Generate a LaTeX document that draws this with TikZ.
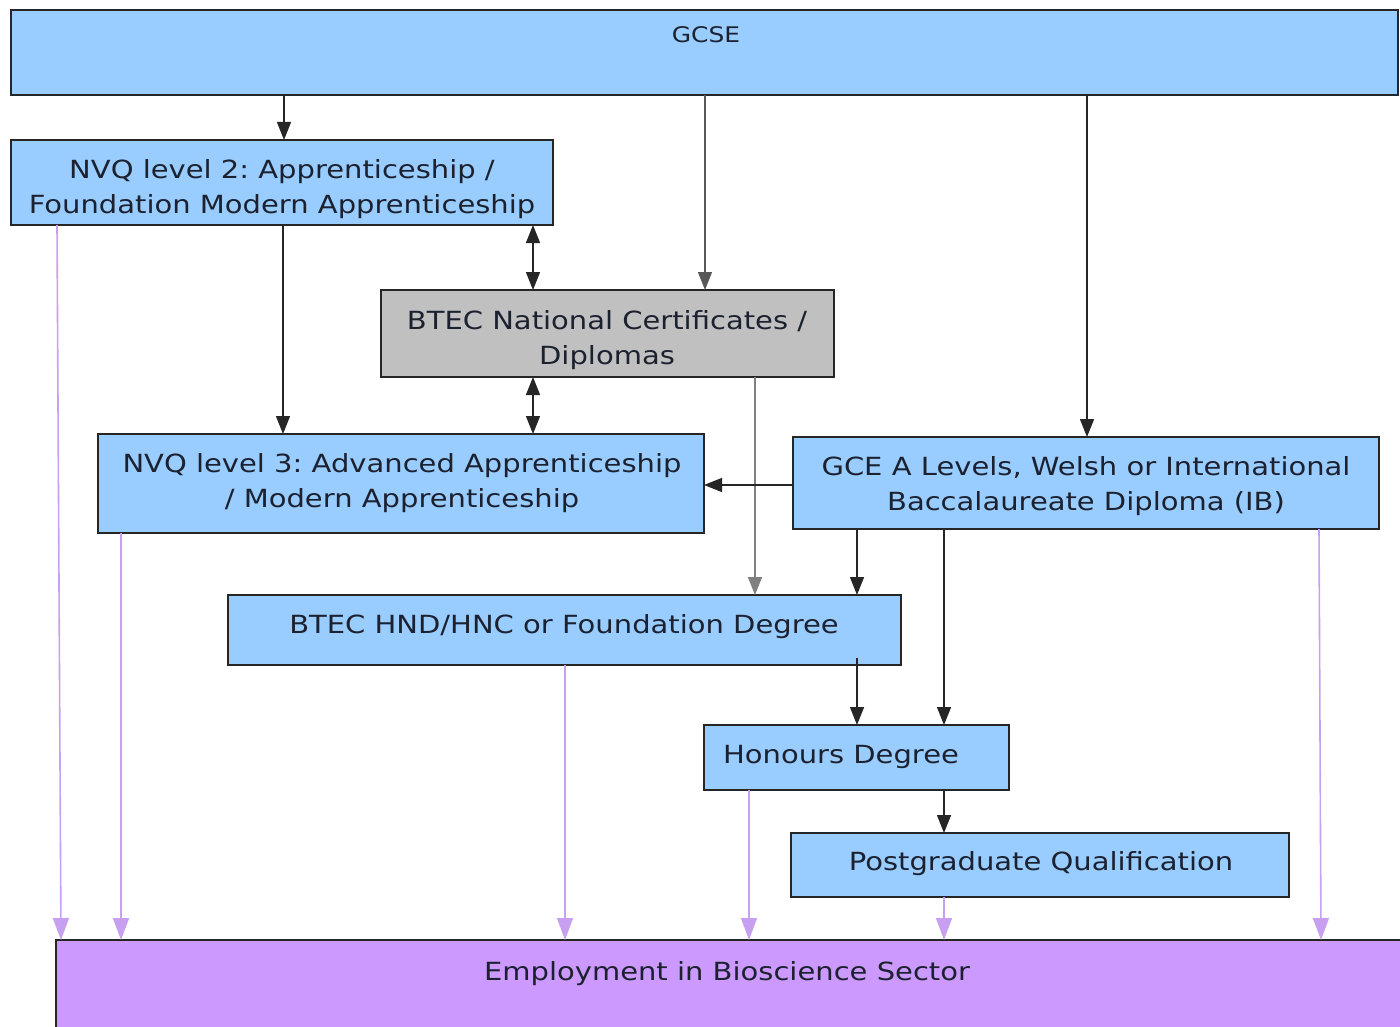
\documentclass[tikz,border=0pt]{standalone}
\usepackage{fontspec}
\setmainfont[FakeStretch=1.16]{DejaVu Sans}
\usetikzlibrary{arrows.meta}
\definecolor{boxblue}{HTML}{99CCFF}
\definecolor{boxgray}{HTML}{C0C0C0}
\definecolor{boxpurple}{HTML}{CC99FF}
\definecolor{arrpurple}{HTML}{C8A0F2}
\definecolor{txtcol}{HTML}{1C2130}
\frenchspacing
\begin{document}
\begin{tikzpicture}[x=1pt,y=-1pt,
  box/.style={draw=black!85, line width=2pt, fill=boxblue, inner sep=0pt, outer sep=0pt},
  graybox/.style={box, fill=boxgray},
  purplebox/.style={box, fill=boxpurple},
  lbl/.style={font=\fontsize{25}{35}\selectfont, align=center, inner sep=0pt, text=txtcol},
  flow/.style={draw=black!85, line width=1.4pt, -{Triangle[length=18pt,width=14pt]}},
  grayflow/.style={flow, draw=black!50},
  bothflow/.style={flow, {Triangle[length=18pt,width=14pt]}-{Triangle[length=18pt,width=14pt]}},
  empflow/.style={draw=arrpurple, line width=1.6pt, -{Triangle[length=22pt,width=16pt,fill=arrpurple]}}
]
\useasboundingbox (0,0) rectangle (1400,1027);
\fill[white] (0,0) rectangle (1400,1027);

% boxes
\node[box, minimum width=1387pt, minimum height=85pt] (gcse) at (704.5,52.5) {};
\node[box, minimum width=542pt, minimum height=85pt] (nvq2) at (282,182.5) {};
\node[graybox, minimum width=453pt, minimum height=87pt] (btecnat) at (607.5,333.5) {};
\node[box, minimum width=606pt, minimum height=99pt] (nvq3) at (401,483.5) {};
\node[box, minimum width=586pt, minimum height=92pt] (gce) at (1086,483) {};
\node[box, minimum width=673pt, minimum height=70pt] (hnd) at (564.5,630) {};
\node[box, minimum width=305pt, minimum height=65pt] (hons) at (856.5,757.5) {};
\node[box, minimum width=498pt, minimum height=64pt] (pg) at (1040,865) {};
\node[purplebox, minimum width=1346pt, minimum height=90pt] (emp) at (729,985) {};

% labels
\node[lbl, font=\fontsize{21.5}{30}\selectfont, anchor=base] (tgcse) at (706,43) {GCSE};
\node[lbl] (tnvq2) at (282,189.5) {NVQ level 2: Apprenticeship /\\Foundation Modern Apprenticeship};
\node[lbl] (tbtecnat) at (607,340.5) {BTEC National Certificates /\\Diplomas};
\node[lbl] (tnvq3) at (402,483.5) {NVQ level 3: Advanced Apprenticeship\\/ Modern Apprenticeship};
\node[lbl] (tgce) at (1086,486) {GCE A Levels, Welsh or International\\Baccalaureate Diploma (IB)};
\node[lbl, anchor=base] (thnd) at (564,633) {BTEC HND/HNC or Foundation Degree};
\node[lbl, anchor=base] (thons) at (841,763) {Honours Degree};
\node[lbl, anchor=base] (tpg) at (1041,870) {Postgraduate Qualification};
\node[lbl, anchor=base] (temp) at (727,980) {Employment in Bioscience Sector};

% x positions of connectors
\coordinate (x57) at (57,0);
\coordinate (x61) at (61,0);
\coordinate (x121) at (121,0);
\coordinate (x283) at (283,0);
\coordinate (x284) at (284,0);
\coordinate (x533) at (533,0);
\coordinate (x565) at (565,0);
\coordinate (x705) at (705,0);
\coordinate (x749) at (749,0);
\coordinate (x755) at (755,0);
\coordinate (x857) at (857,0);
\coordinate (x944) at (944,0);
\coordinate (x1087) at (1087,0);
\coordinate (x1319) at (1319,0);
\coordinate (x1321) at (1321,0);
\coordinate (y485) at (0,485);
\coordinate (hndin) at (857,658);

% black connectors
\draw[grayflow, draw=black!65] (gcse.south -| x705) -- (btecnat.north -| x705);
\draw[flow] (gcse.south -| x284) -- (nvq2.north -| x284);
\draw[flow] (gcse.south -| x1087) -- (gce.north -| x1087);
\draw[bothflow] (nvq2.south -| x533) -- (btecnat.north -| x533);
\draw[flow] (nvq2.south -| x283) -- (nvq3.north -| x283);
\draw[bothflow] (btecnat.south -| x533) -- (nvq3.north -| x533);
\draw[grayflow] (btecnat.south -| x755) -- (hnd.north -| x755);
\draw[flow] (gce.west |- y485) -- (nvq3.east |- y485);
\draw[flow] (gce.south -| x857) -- (hnd.north -| x857);
\draw[flow] (hndin) -- (hons.north -| x857);
\draw[flow] (gce.south -| x944) -- (hons.north -| x944);
\draw[flow] (hons.south -| x944) -- (pg.north -| x944);

% purple connectors to employment
\draw[empflow] (nvq2.south -| x57) -- (emp.north -| x61);
\draw[empflow] (nvq3.south -| x121) -- (emp.north -| x121);
\draw[empflow] (hnd.south -| x565) -- (emp.north -| x565);
\draw[empflow] (hons.south -| x749) -- (emp.north -| x749);
\draw[empflow] (pg.south -| x944) -- (emp.north -| x944);
\draw[empflow] (gce.south -| x1319) -- (emp.north -| x1321);
\end{tikzpicture}
\end{document}
